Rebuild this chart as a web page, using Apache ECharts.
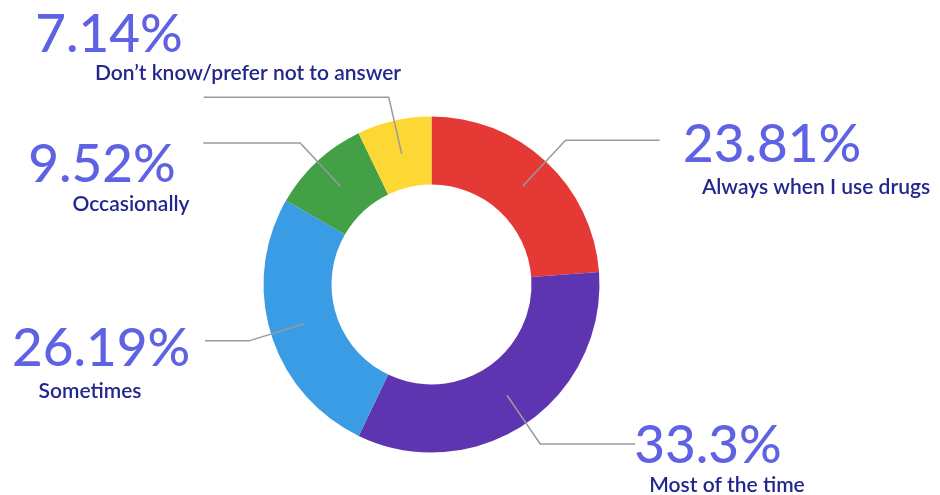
<!DOCTYPE html>
<html>
<head>
<meta charset="utf-8">
<script src="https://cdn.jsdelivr.net/npm/echarts@6/dist/echarts.min.js"></script>
<style>
html, body { margin: 0; padding: 0; background: #fff; }
#chart { width: 940px; height: 495px; }
</style>
</head>
<body>
<div id="chart"></div>
<script>
const categories = ['Always when I use drugs', 'Most of the time', 'Sometimes', 'Occasionally', 'Don’t know/prefer not to answer']
const values = [23.81, 33.3, 26.19, 9.52, 7.14]
const percentLabels = ['23.81%', '33.3%', '26.19%', '9.52%', '7.14%']

const COLORS = ['#e53935', '#5e35b1', '#3b9ce6', '#43a047', '#fdd835']
const CENTER = [431.5, 284.5]

// leader line pieces per slice (radial part, horizontal part)
const LINE_LEN = [63, 59, 57, 59, 58]
const LINE_LEN2 = [94, 95, 44, 97, 185]
// where the two text lines of each label sit (centre of the line)
const PCT_POS = [[772, 145], [708, 446], [101, 349], [102, 165], [109, 35]]
const NAME_POS = [[816, 187], [727, 485], [90, 391], [131, 204], [248, 73]]

const chart = echarts.init(document.getElementById('chart'))

const clear = 'rgba(0,0,0,0)'

function hiddenPie(extra) {
  return Object.assign({
    type: 'pie',
    silent: true,
    z: 5,
    center: CENTER,
    radius: [0, 134],
    startAngle: 90,
    avoidLabelOverlap: false,
    animation: false,
    itemStyle: { color: clear, borderWidth: 0 },
  }, extra)
}

chart.setOption({
  backgroundColor: '#ffffff',
  series: [
    {
      type: 'pie',
      silent: true,
      z: 1,
      center: CENTER,
      radius: [100, 168],
      startAngle: 90,
      animation: false,
      label: { show: false },
      labelLine: { show: false },
      itemStyle: { borderWidth: 0 },
      data: categories.map((c, i) => ({ name: c, value: values[i], itemStyle: { color: COLORS[i] } })),
    },
    // leader lines, starting in the middle of the ring
    hiddenPie({
      label: { show: true, position: 'outside', formatter: ' ', fontSize: 1, distanceToLabelLine: 0 },
      labelLine: { show: true, smooth: false, lineStyle: { color: '#9a9a9a', width: 1.5 } },
      data: categories.map((c, i) => ({
        name: c, value: values[i],
        labelLine: { length: LINE_LEN[i], length2: LINE_LEN2[i] },
      })),
    }),
    // percentages
    hiddenPie({
      label: {
        show: true, overflow: 'none',
        formatter: (p) => percentLabels[p.dataIndex],
        fontFamily: 'Lato', fontSize: 53, fontWeight: 500, color: '#5f63e3',
      },
      labelLine: { show: false },
      labelLayout: (p) => ({ x: PCT_POS[p.dataIndex][0], y: PCT_POS[p.dataIndex][1], align: 'center', verticalAlign: 'middle' }),
      data: categories.map((c, i) => ({ name: c, value: values[i] })),
    }),
    // category names
    hiddenPie({
      label: {
        show: true, overflow: 'none',
        formatter: '{b}',
        fontFamily: 'Lato', fontSize: 21, fontWeight: 600, color: '#23278c',
      },
      labelLine: { show: false },
      labelLayout: (p) => ({ x: NAME_POS[p.dataIndex][0], y: NAME_POS[p.dataIndex][1], align: 'center', verticalAlign: 'middle' }),
      data: categories.map((c, i) => ({ name: c, value: values[i] })),
    }),
  ],
})
</script>
</body>
</html>
